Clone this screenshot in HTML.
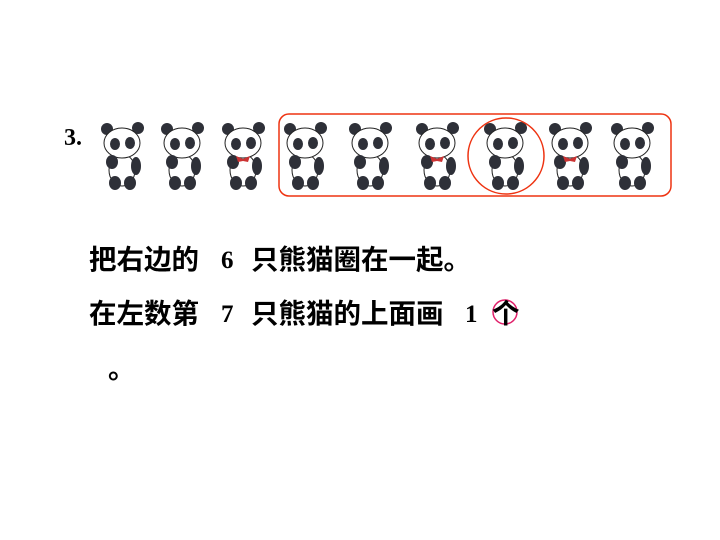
<!DOCTYPE html>
<html><head><meta charset="utf-8"><style>
body{margin:0;width:720px;height:540px;background:#fff;overflow:hidden;position:relative;font-family:"Liberation Sans","Noto Sans CJK SC",sans-serif}
.t{position:absolute;font-weight:bold;font-size:27.5px;color:#000;white-space:nowrap;line-height:1}
.n{font-family:"Liberation Serif",serif;font-size:25px}
</style></head><body>
<svg width="720" height="540" style="position:absolute;left:0;top:0">
<defs>
<g id="p">
<ellipse cx="-15" cy="7" rx="6" ry="6" fill="#2e3038"/>
<ellipse cx="16" cy="6" rx="6" ry="6" fill="#2e3038"/>
<ellipse cx="0" cy="48" rx="13" ry="16" fill="#fff" stroke="#222" stroke-width="1"/>
<ellipse cx="0" cy="21" rx="18" ry="15" fill="#fff" stroke="#222" stroke-width="1"/>
<ellipse cx="-7" cy="22" rx="5" ry="6" fill="#2e3038"/>
<ellipse cx="8" cy="21" rx="5" ry="6" fill="#2e3038"/>
<ellipse cx="-10" cy="40" rx="6" ry="7" fill="#2e3038"/>
<ellipse cx="14" cy="44" rx="5" ry="9" fill="#2e3038"/>
<ellipse cx="-7" cy="61" rx="6" ry="7" fill="#2e3038"/>
<ellipse cx="8" cy="61" rx="6" ry="7" fill="#2e3038"/>
</g>
</defs>
<use href="#p" x="122" y="122"/>
<use href="#p" x="182" y="122"/>
<use href="#p" x="243" y="122"/>
<use href="#p" x="305" y="122"/>
<use href="#p" x="370" y="122"/>
<use href="#p" x="437" y="122"/>
<use href="#p" x="505" y="122"/>
<use href="#p" x="570" y="122"/>
<use href="#p" x="632" y="122"/>
<path d="M236 156 l7 3 l7 -3 l-2 6 l-5 -1 l-5 1z" fill="#c33"/>
<path d="M430 156 l7 3 l7 -3 l-2 6 l-5 -1 l-5 1z" fill="#c33"/>
<path d="M563 156 l7 3 l7 -3 l-2 6 l-5 -1 l-5 1z" fill="#c33"/>
<rect x="279" y="114" width="392" height="82" rx="10" fill="none" stroke="#e31" stroke-width="1.5"/>
<ellipse cx="506" cy="156" rx="38" ry="38" fill="none" stroke="#e31" stroke-width="1.5"/>
<circle cx="505" cy="312" r="12" fill="none" stroke="#e0206a" stroke-width="1.5"/>
</svg>
<div class="t n" style="left:64px;top:126px;font-size:24px">3.</div>
<div class="t" style="left:89px;top:246px">把右边的</div>
<div class="t n" style="left:221px;top:248px">6</div>
<div class="t" style="left:251px;top:246px">只熊猫圈在一起。</div>
<div class="t" style="left:89px;top:300px">在左数第</div>
<div class="t n" style="left:221px;top:302px">7</div>
<div class="t" style="left:251px;top:300px">只熊猫的上面画</div>
<div class="t n" style="left:465px;top:302px">1</div>
<div class="t" style="left:492px;top:300px">个</div>
<div class="t" style="left:108px;top:355px">。</div>
</body></html>
